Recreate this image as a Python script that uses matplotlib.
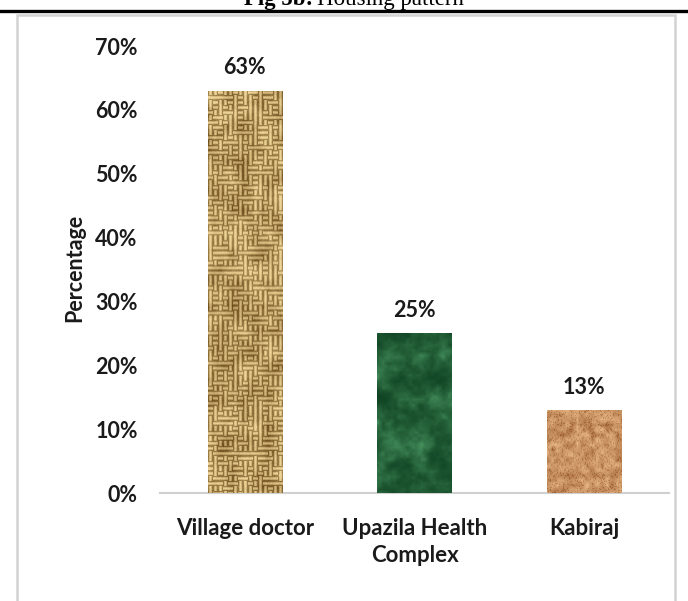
import numpy as np
import matplotlib
matplotlib.use("Agg")
import matplotlib.pyplot as plt
from matplotlib.patches import Rectangle
from matplotlib.lines import Line2D

# Data
categories = ["Village doctor", "Upazila Health\nComplex", "Kabiraj"]
percentages = [63, 25, 13]
value_labels = ["63%", "25%", "13%"]
y_ticks = [0, 10, 20, 30, 40, 50, 60, 70]
y_tick_labels = ["0%", "10%", "20%", "30%", "40%", "50%", "60%", "70%"]

W, H, DPI = 688, 601, 100
fig = plt.figure(figsize=(W / DPI, H / DPI), dpi=DPI)
fig.patch.set_facecolor("white")

rng = np.random.default_rng(11)


def smooth_noise(h, w, cell, octaves=3):
    out = np.zeros((h, w))
    amp, s = 1.0, float(cell)
    for _ in range(octaves):
        gh, gw = int(h / s) + 3, int(w / s) + 3
        g = rng.random((gh, gw))
        yi = np.arange(h) / s
        xi = np.arange(w) / s
        y0 = yi.astype(int)
        x0 = xi.astype(int)
        fy = (yi - y0)[:, None]
        fx = (xi - x0)[None, :]
        a = g[y0][:, x0]
        b = g[y0][:, x0 + 1]
        c = g[y0 + 1][:, x0]
        d = g[y0 + 1][:, x0 + 1]
        out += amp * ((a * (1 - fx) + b * fx) * (1 - fy) + (c * (1 - fx) + d * fx) * fy)
        amp *= 0.5
        s = max(s / 2, 1.0)
    out -= out.min()
    out /= out.max()
    return out


def mix(c1, c2, t):
    c1 = np.array(matplotlib.colors.to_rgb(c1))
    c2 = np.array(matplotlib.colors.to_rgb(c2))
    t = np.clip(t, 0, 1)[..., None]
    return c1 * (1 - t) + c2 * t


def burlap(h, w):
    p = 5
    yy, xx = np.mgrid[0:h, 0:w]
    bi, bj = yy // p, xx // p
    orient = rng.random((h // p + 1, w // p + 1)) > 0.5
    horiz = orient[bi, bj]
    across = np.where(horiz, (yy % p + 0.5) / p, (xx % p + 0.5) / p)
    strand = np.sin(np.pi * across) ** 1.2
    n = smooth_noise(h, w, 12)
    t = 0.1 + 0.8 * strand - 0.6 * (n - 0.5) + 0.12 * (rng.random((h, w)) - 0.5)
    return mix("#6a4a18", "#eed496", t)


def marble(h, w):
    n = smooth_noise(h, w, 22, 4)
    m = smooth_noise(h, w, 6, 2)
    t = (0.65 * n + 0.35 * m) ** 1.8
    return mix("#0f4222", "#4e9c66", t * 1.1)


def cork(h, w):
    n = smooth_noise(h, w, 5, 2)
    speck = rng.random((h, w))
    t = 0.72 - 0.7 * (n - 0.5) - 0.35 * (speck > 0.85) + 0.1 * (speck - 0.5)
    return mix("#8a4a1e", "#eab988", t)


textures = [burlap, marble, cork]

# Outer frame and rule under the caption
fig.add_artist(Line2D([0, 1], [1 - 10.5 / H, 1 - 10.5 / H], color="black", lw=2.4,
                      transform=fig.transFigure))
fig.add_artist(Rectangle((17 / W, -0.05), (675 - 17) / W, (H - 15) / H + 0.05,
                         transform=fig.transFigure, fill=False,
                         edgecolor="#d2d2d2", lw=1.8))

fig.text(313 / W, 1 - 5 / H, "Fig 5b:", ha="right", va="baseline",
         family="Liberation Serif", fontweight="bold", fontsize=16.5)
fig.text(317 / W, 1 - 5 / H, "Housing pattern", ha="left", va="baseline",
         family="Liberation Serif", fontsize=16.5)

ax_left, ax_right = 160, 669
ax_top, ax_bottom = 46, 493
ax = fig.add_axes([ax_left / W, 1 - ax_bottom / H, (ax_right - ax_left) / W,
                   (ax_bottom - ax_top) / H])
ax.set_facecolor("none")

x = np.arange(len(categories))
bar_w = 0.44
bars = ax.bar(x, percentages, width=bar_w, facecolor="none", edgecolor="none")
ax.set_xlim(-0.5, len(categories) - 0.5)
ax.set_ylim(0, 70)

px_per_x = (ax_right - ax_left) / 3.0
px_per_y = (ax_bottom - ax_top) / 70.0
for bar, tex in zip(bars, textures):
    bw = int(round(bar.get_width() * px_per_x))
    bh = int(round(bar.get_height() * px_per_y))
    img = tex(bh, bw)
    im = ax.imshow(img, extent=(bar.get_x(), bar.get_x() + bar.get_width(),
                                0, bar.get_height()),
                   aspect="auto", interpolation="bilinear", zorder=2)
    im.set_clip_path(bar)

for xi, v, lab in zip(x, percentages, value_labels):
    ax.annotate(lab, (xi, v), xytext=(0, 16.5), textcoords="offset points",
                ha="center", va="center", family="Lato", fontweight="bold",
                fontsize=15.5, color="#1a1a1a")

ax.set_yticks(y_ticks)
ax.set_yticklabels(y_tick_labels, family="Lato", fontweight="bold", fontsize=15.5,
                   color="#1a1a1a")
ax.set_xticks(x)
ax.set_xticklabels(categories, family="Lato", fontweight="bold", fontsize=16,
                   color="#1a1a1a", linespacing=1.35)
ax.tick_params(axis="y", length=0, pad=16)
ax.tick_params(axis="x", length=0, pad=18)
for s in ["left", "right", "top"]:
    ax.spines[s].set_visible(False)
ax.spines["bottom"].set_color("#d0d0d0")
ax.spines["bottom"].set_linewidth(1.5)
ax.spines["bottom"].set_zorder(1)

fig.text(75 / W, 1 - 268 / H, "Percentage", rotation=90, ha="center", va="center",
         family="Lato", fontweight="bold", fontsize=15.5, color="#1a1a1a")

fig.savefig("out.png", dpi=DPI)
